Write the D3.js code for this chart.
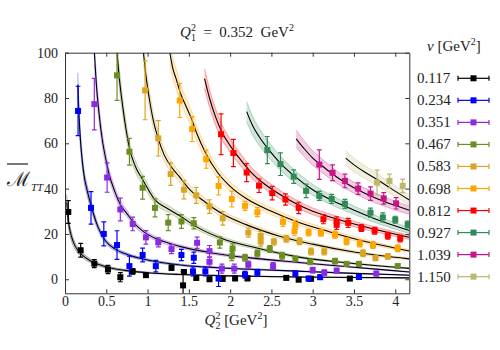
<!DOCTYPE html>
<html>
<head>
<meta charset="utf-8">
<script src="https://cdn.jsdelivr.net/npm/d3@7"></script>
<style>
body { margin: 0; background: #fff; }
text { font-family: "Liberation Serif", "DejaVu Serif", serif; fill: #222; }
</style>
</head>
<body>
<svg id="chart" width="500" height="350"></svg>
<script>
// nu values of the legend [GeV^2]
const nuLabels = ["0.117", "0.234", "0.351", "0.467", "0.583", "0.698", "0.812", "0.927", "1.039", "1.150"];

// lattice points: [Q2^2, M_TT, error]
const pts117 = [[0.04,29.7,5],[0.19,12.8,3],[0.355,6.9,1.8],[0.52,4.3,1.8],[0.67,0.9,2],[0.82,3.5,1.2],[0.98,1.8,1],
  [1.29,5.1,1.2],[1.44,3.2,1],[1.43,-2.7,6],[1.59,0.6,1],[1.75,0,1],[1.91,0.2,1],[2.06,0.4,1],[2.21,0.4,1],
  [2.68,0.6,0.8],[2.83,-0.2,0.8],[2.98,0.2,0.8],[3.45,0.3,0.8]];
const pts234 = [[0.158,74.3,10.9],[0.315,31.5,7.2],[0.47,20,5.3],[0.63,15.1,6.3],[0.78,5.8,4.4],[0.94,10.7,3],
  [1.10,5.8,2.5],[1.41,10.7,2.5],[1.56,9.5,2.5],[1.55,3.5,2],[1.70,3.5,2],[1.86,0.3,3.5],[2.18,2,1.5],
  [2.33,2.9,1.5],[2.79,2.5,1.2],[2.95,0.3,1],[3.09,0.9,1],[3.56,1,1]];
const pts351 = [[0.355,77.3,11.4],[0.51,44.9,6.5],[0.67,30.8,5],[0.82,24.4,3],[0.98,18.5,3],[1.13,16.3,2],
  [1.29,13.3,2],[1.6,16.1,2.5],[1.75,12.4,2.5],[1.75,7.7,2],[1.9,4.7,2],[2.05,4.7,2],[2.22,6.5,1.5],
  [2.52,5.8,1.5],[3.0,4,1.2],[3.14,2.9,1.2],[3.29,3.8,1],[3.77,2.5,1]];
const pts467 = [[0.63,90,11],[0.78,56.3,5.9],[0.94,40.4,5],[1.09,31.5,4],[1.25,25,3.5],[1.41,25.5,3],
  [1.56,24.7,2.5],[1.875,16.2,2.5],[2.03,13.6,2],[2.02,10.2,2],[2.18,9.5,1.5],[2.33,11.4,1.5],[2.48,13.3,1.5],
  [2.63,10.4,1.5],[2.79,9,1.2],[2.97,7.7,1.2],[3.27,8,1.2],[3.41,6.8,1],[3.56,6.8,1],[4.03,5.8,1]];
const pts583 = [[0.97,83.4,13],[1.13,62.2,7.8],[1.28,46.4,5],[1.44,39.5,4],[1.59,37,3.5],[1.75,32.1,3],
  [1.91,26.9,3],[2.22,20.6,2],[2.37,19.1,2],[2.37,16.6,2],[2.53,16.6,1.5],[2.68,17.9,1.5],[2.84,16.8,1.5],
  [2.98,12.2,1.5],[3.14,12.3,1.5],[3.61,11.5,1.5],[3.76,9.4,1.2],[3.91,10.1,1.2]];
const pts698 = [[1.39,78.9,7.5],[1.54,66.3,5.5],[1.71,53,4],[1.86,41.2,4],[2.02,35.4,3.5],[2.18,32.4,2],
  [2.33,29.6,2],[2.64,25.3,2],[2.79,23.9,2],[2.78,21.2,2],[2.95,20.6,1.5],[3.1,20.5,1.5],[3.27,19.6,1.5],
  [3.41,16.8,1.5],[3.57,15.8,1.5],[3.73,15.1,1.5],[4.03,13.7,1.5]];
const pts812 = [[1.89,64,9],[2.04,55.7,6],[2.2,47.1,4],[2.35,41.3,3],[2.51,38,3],[2.67,35.2,2.5],[2.83,31.5,2.5],
  [3.13,26.5,2],[3.29,25.5,2],[3.29,24,2],[3.43,24.9,2],[3.59,22.6,1.5],[3.75,21.4,1.5],[3.91,19.2,1.5],[4.06,18,1.5]];
const pts927 = [[2.45,57,6],[2.61,50.8,5],[2.77,45.3,3],[2.92,39,3],[3.08,36.8,2],[3.23,35.5,2],[3.39,33.3,2],
  [3.7,29.4,2],[3.85,27.3,2],[4.0,26.3,1.5],[4.15,24.2,1.5]];
const pts1039 = [[3.08,50.6,6.5],[3.24,47,3.5],[3.39,43.4,3],[3.55,40,2.5],[3.7,37.8,3],[3.86,35.7,2.5],[4.01,33.5,2.5]];
const pts1150 = [[3.78,42.7,5.5],[3.93,43.4,3],[4.09,41.2,3]];

// fit curves: [Q2^2, M_TT]
const fit117 = [[0.02,34],[0.04,26],[0.07,20],[0.1,16.5],[0.15,13],[0.2,11],[0.3,8.3],[0.4,6.6],[0.55,5],
  [0.75,3.8],[1.0,2.9],[1.4,2.1],[2.0,1.5],[2.8,1.0],[4.17,0.6]];
const fit234 = [[0.155,86],[0.17,72],[0.19,60],[0.21,52],[0.23,46],[0.27,39],[0.32,32],[0.4,23],[0.49,17],
  [0.6,13.5],[0.77,10.7],[1.0,8.5],[1.4,6.3],[1.9,5],[2.4,4.2],[2.8,3.6],[3.5,2.6],[4.17,1.8]];
const fit351 = [[0.355,100],[0.38,86],[0.41,74],[0.45,62],[0.5,52],[0.53,47],[0.6,39],[0.67,33],[0.75,29],
  [0.82,25.5],[0.95,21],[1.13,17.5],[1.39,14.5],[1.8,11.5],[2.3,9.2],[2.8,7.5],[3.5,5.3],[4.17,3.2]];
const fit467 = [[0.63,100],[0.66,88],[0.7,76],[0.74,66],[0.78,58],[0.85,50],[0.94,44],[1.09,35],[1.25,31],
  [1.39,28],[1.6,23],[1.9,18],[2.3,14],[2.8,10],[3.4,7.3],[4.17,4.8]];
const fit583 = [[0.95,100],[0.98,90],[1.02,80],[1.07,70],[1.13,62],[1.2,55],[1.3,49],[1.38,45.5],[1.5,40],
  [1.7,34],[1.9,29],[2.2,24],[2.6,19],[3.0,15.5],[3.5,12],[4.17,9]];
const fit698 = [[1.27,100],[1.3,94],[1.35,88],[1.4,82],[1.47,76],[1.53,71],[1.6,64],[1.7,56],[1.85,47],
  [2.0,41],[2.2,35.5],[2.5,30],[2.8,25.5],[3.2,21],[3.6,17],[4.17,12.5]];
const fit812 = [[1.69,88.6],[1.75,80],[1.82,72],[1.9,65],[2.0,59],[2.1,54],[2.26,47],[2.4,42.5],[2.6,37.5],
  [2.79,33.5],[3.0,30],[3.3,26.5],[3.7,22.5],[4.17,18.5]];
const fit927 = [[2.2,74],[2.27,68],[2.35,63],[2.45,58],[2.61,51.2],[2.78,45.5],[3.0,39.5],[3.25,34.5],
  [3.5,30.5],[3.8,26],[4.17,21.5]];
const fit1039 = [[2.8,62],[2.9,57.5],[3.0,53.5],[3.1,50.5],[3.22,47],[3.4,42.5],[3.6,38.5],[3.85,34.5],[4.17,30.5]];
const fit1150 = [[3.4,53.5],[3.5,50.5],[3.6,48],[3.78,44],[3.95,40],[4.17,35]];

// relative half width of the fit bands
const bandFrac = [0.1, 0.06, 0.05, 0.05, 0.05, 0.05, 0.05, 0.06, 0.06, 0.06];

const xTicks = [0, 0.5, 1, 1.5, 2, 2.5, 3, 3.5, 4];
const yTicks = [0, 20, 40, 60, 80, 100];

const colors = ["#000000", "#0000ff", "#8a2be2", "#6b8e23", "#daa520",
                "#ffa500", "#ff0000", "#2e8b57", "#c71585", "#bdb76b"];

const allPts = [pts117, pts234, pts351, pts467, pts583, pts698, pts812, pts927, pts1039, pts1150];
const allFits = [fit117, fit234, fit351, fit467, fit583, fit698, fit812, fit927, fit1039, fit1150];
const series = nuLabels.map((nu, i) => ({
  nu: nu, color: colors[i], pts: allPts[i], fit: allFits[i], band: bandFrac[i]
}));

const plot = { left: 65, right: 409.3, top: 52.7, bottom: 293.3 };

const x = d3.scaleLinear().domain([0, 4.17]).range([plot.left, plot.right]);
const y = d3.scaleLinear().domain([-6.2, 100]).range([plot.bottom, plot.top]);

const svg = d3.select("#chart");

svg.append("clipPath").attr("id", "clip")
  .append("rect")
    .attr("x", plot.left).attr("y", plot.top)
    .attr("width", plot.right - plot.left)
    .attr("height", plot.bottom - plot.top);

const inner = svg.append("g").attr("clip-path", "url(#clip)");

// Bands and fit lines
// ----------------------------------------
const area = d3.area()
    .x(d => x(d[0]))
    .y0(d => y(d[1] * (1 - d.f)))
    .y1(d => y(d[1] * (1 + d.f)))
    .curve(d3.curveMonotoneX);
const line = d3.line()
    .x(d => x(d[0]))
    .y(d => y(d[1]))
    .curve(d3.curveMonotoneX);

series.forEach(s => {
  const pts = s.fit.map(d => { const p = [d[0], d[1]]; p.f = s.band; return p; });
  const g = inner.append("g");
  g.append("path")
      .attr("d", area(pts))
      .attr("fill", s.color)
      .attr("fill-opacity", s.color === "#000000" ? 0.15 : 0.22)
      .attr("stroke", "none");
  g.append("path")
      .attr("d", line(pts.map(d => [d[0], d[1] * (1 + s.band)])))
      .attr("fill", "none").attr("stroke", s.color)
      .attr("stroke-opacity", 0.45).attr("stroke-width", 0.7);
  g.append("path")
      .attr("d", line(pts.map(d => [d[0], d[1] * (1 - s.band)])))
      .attr("fill", "none").attr("stroke", s.color)
      .attr("stroke-opacity", 0.45).attr("stroke-width", 0.7);
  g.append("path")
      .attr("d", line(pts))
      .attr("fill", "none").attr("stroke", "#000")
      .attr("stroke-width", 1.1);
});

// Data points with error bars
// ----------------------------------------
const capW = 2.4, box = 6;
series.forEach(s => {
  const g = inner.append("g").attr("stroke", s.color).attr("fill", s.color);
  const node = g.selectAll("g").data(s.pts).join("g");
  node.append("line")
      .attr("x1", d => x(d[0])).attr("x2", d => x(d[0]))
      .attr("y1", d => y(d[1] - d[2])).attr("y2", d => y(d[1] + d[2]))
      .attr("stroke-width", 1.2);
  node.append("line")
      .attr("x1", d => x(d[0]) - capW).attr("x2", d => x(d[0]) + capW)
      .attr("y1", d => y(d[1] + d[2])).attr("y2", d => y(d[1] + d[2]))
      .attr("stroke-width", 1.2);
  node.append("line")
      .attr("x1", d => x(d[0]) - capW).attr("x2", d => x(d[0]) + capW)
      .attr("y1", d => y(d[1] - d[2])).attr("y2", d => y(d[1] - d[2]))
      .attr("stroke-width", 1.2);
  node.append("rect")
      .attr("x", d => x(d[0]) - box / 2).attr("y", d => y(d[1]) - box / 2)
      .attr("width", box).attr("height", box)
      .attr("stroke", "none");
});

// Axes (ticks pointing inwards, on all four sides)
// ----------------------------------------
const axisStyle = g => {
  g.selectAll(".domain").attr("stroke", "#333");
  g.selectAll(".tick line").attr("stroke", "#333");
  g.selectAll("text").attr("font-size", 14).attr("font-family", "Liberation Serif, serif").attr("fill", "#222");
};
svg.append("g")
    .attr("transform", `translate(0,${plot.bottom})`)
    .call(d3.axisBottom(x).tickValues(xTicks).tickFormat(d => d)
      .tickSizeInner(-4).tickSizeOuter(0).tickPadding(3))
    .call(axisStyle);
svg.append("g")
    .attr("transform", `translate(0,${plot.top})`)
    .call(d3.axisTop(x).tickValues(xTicks).tickFormat("")
      .tickSizeInner(-4).tickSizeOuter(0))
    .call(axisStyle);
svg.append("g")
    .attr("transform", `translate(${plot.left},0)`)
    .call(d3.axisLeft(y).tickValues(yTicks).tickFormat(d => d)
      .tickSizeInner(-4).tickSizeOuter(0).tickPadding(7))
    .call(axisStyle);
svg.append("g")
    .attr("transform", `translate(${plot.right},0)`)
    .call(d3.axisRight(y).tickValues(yTicks).tickFormat("")
      .tickSizeInner(-4).tickSizeOuter(0))
    .call(axisStyle);

// Titles
// ----------------------------------------
function qLabel(t, sub, after) {
  t.append("tspan").attr("font-style", "italic").text("Q");
  t.append("tspan").attr("font-size", 10).attr("dy", -6).text("2");
  t.append("tspan").attr("font-size", 10).attr("dx", -5).attr("dy", 10).text(sub);
  t.append("tspan").attr("dy", -4).text(after);
  t.append("tspan").attr("font-size", 10).attr("dy", -6).text("2");
  return t;
}
svg.append("text")
    .attr("x", 237).attr("y", 37).attr("text-anchor", "middle")
    .attr("font-size", 15).attr("xml:space", "preserve")
    .call(qLabel, "1", "  =  0.352  GeV")
    .append("tspan").attr("dy", 6).text("");
svg.append("text")
    .attr("x", 236).attr("y", 325).attr("text-anchor", "middle")
    .attr("font-size", 15).attr("xml:space", "preserve")
    .call(qLabel, "2", " [GeV")
    .append("tspan").attr("dy", 6).text("]");

// y label: overline M_TT, one text with a subscript tspan
const yl = svg.append("text")
    .attr("x", 7).attr("y", 186)
    .attr("font-size", 20);
yl.append("tspan").text("ℳ");
yl.append("tspan")
    .attr("font-size", 11).attr("font-style", "italic")
    .attr("dx", 1).attr("dy", 5)
    .text("TT");
svg.append("line")
    .attr("x1", 7).attr("x2", 28).attr("y1", 164).attr("y2", 164)
    .attr("stroke", "#222").attr("stroke-width", 1.2);

// Legend
// ----------------------------------------
const lg = svg.append("g");
const lt = lg.append("text")
    .attr("x", 427).attr("y", 51)
    .attr("font-size", 15).attr("xml:space", "preserve");
lt.append("tspan").attr("font-style", "italic").text("ν");
lt.append("tspan").text(" [GeV");
lt.append("tspan").attr("font-size", 10).attr("dy", -6).text("2");
lt.append("tspan").attr("dy", 6).text("]");

const row = lg.selectAll("g.row").data(series).join("g")
    .attr("class", "row")
    .attr("transform", (d, i) => `translate(0,${78.3 + i * 22.04})`);
row.append("text")
    .attr("x", 417).attr("y", 5)
    .attr("font-size", 15)
    .text(d => d.nu);
row.append("line")
    .attr("x1", 458).attr("x2", 489).attr("y1", 0).attr("y2", 0)
    .attr("stroke", d => d.color).attr("stroke-width", 1.2);
row.append("line")
    .attr("x1", 458).attr("x2", 458).attr("y1", -2.5).attr("y2", 2.5)
    .attr("stroke", d => d.color).attr("stroke-width", 1.2);
row.append("line")
    .attr("x1", 489).attr("x2", 489).attr("y1", -2.5).attr("y2", 2.5)
    .attr("stroke", d => d.color).attr("stroke-width", 1.2);
row.append("rect")
    .attr("x", 470.5).attr("y", -3).attr("width", 6).attr("height", 6)
    .attr("fill", d => d.color);
</script>
</body>
</html>
